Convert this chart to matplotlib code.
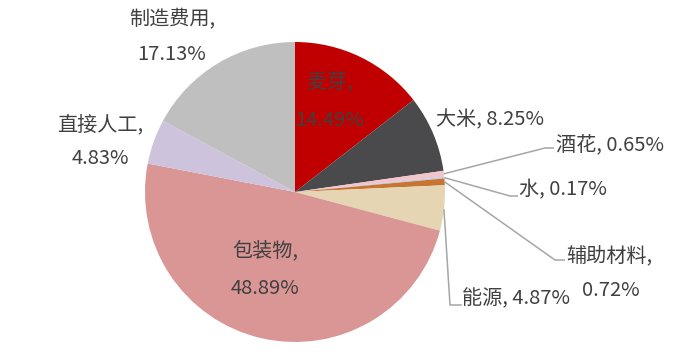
import numpy as np
import matplotlib
matplotlib.use("Agg")
import matplotlib.pyplot as plt

plt.rcParams['font.family'] = ['Noto Sans CJK SC', 'DejaVu Sans']

categories = ['麦芽', '大米', '酒花', '水', '辅助材料', '能源', '包装物', '直接人工', '制造费用']
values = [14.49, 8.25, 0.65, 0.17, 0.72, 4.87, 48.89, 4.83, 17.13]
colors = ['#C00000', '#4A4A4C', '#F2C4CB', '#B9CDE5', '#C87533', '#E6D5B3',
          '#D99694', '#CDC3DD', '#BFBFBF']

W, H = 699, 364
fig = plt.figure(figsize=(W / 100, H / 100), dpi=100)
ax = fig.add_axes([0, 0, 1, 1])
ax.set_aspect('equal')

cx, cy, R = 295, H - 192, 150
wedges, _ = ax.pie(values, colors=colors, startangle=90, counterclock=False,
                   center=(cx, cy), radius=R, frame=True,
                   wedgeprops=dict(linewidth=0))
ax.set_xlim(0, W)
ax.set_ylim(0, H)
ax.axis('off')

tc = '#404040'
fs = 14.5
lc = '#A6A6A6'

def mid_pt(i, r=R):
    w = wedges[i]
    a = np.deg2rad((w.theta1 + w.theta2) / 2)
    return cx + r * np.cos(a), cy + r * np.sin(a)

def Y(y):
    return H - y

def txt(x, y, s, ha='center'):
    ax.text(x, Y(y), s, ha=ha, va='center', fontsize=fs, color=tc)

# inside labels
txt(330, 83, f'{categories[0]},')
txt(330, 121, f'{values[0]:.2f}%')
txt(265, 251, f'{categories[6]},')
txt(265, 288, f'{values[6]:.2f}%')

# outside labels
txt(172, 20, f'{categories[8]},')
txt(172, 55, f'{values[8]:.2f}%')
txt(100, 125, f'{categories[7]},')
txt(100, 158, f'{values[7]:.2f}%')
txt(436, 120, f'{categories[1]}, {values[1]:.2f}%', ha='left')

# small slices with leader lines
def leader(i, pts):
    x0, y0 = mid_pt(i)
    xs = [x0] + [p[0] for p in pts]
    ys = [y0] + [Y(p[1]) for p in pts]
    ax.plot(xs, ys, color=lc, lw=1.1, solid_capstyle='butt')

leader(2, [(545, 148), (554, 148)])
txt(556, 146, f'{categories[2]}, {values[2]:.2f}%', ha='left')
leader(3, [(510, 196), (518, 196)])
txt(519, 190, f'{categories[3]}, {values[3]:.2f}%', ha='left')
leader(4, [(555, 260), (565, 260)])
txt(566, 257, f'{categories[4]},', ha='left')
txt(611, 290, f'{values[4]:.2f}%')

ax.plot([444, 450, 461], [Y(210), Y(305), Y(305)], color=lc, lw=1.1)
txt(462, 299, f'{categories[5]}, {values[5]:.2f}%', ha='left')

fig.savefig('out.png', dpi=100)
